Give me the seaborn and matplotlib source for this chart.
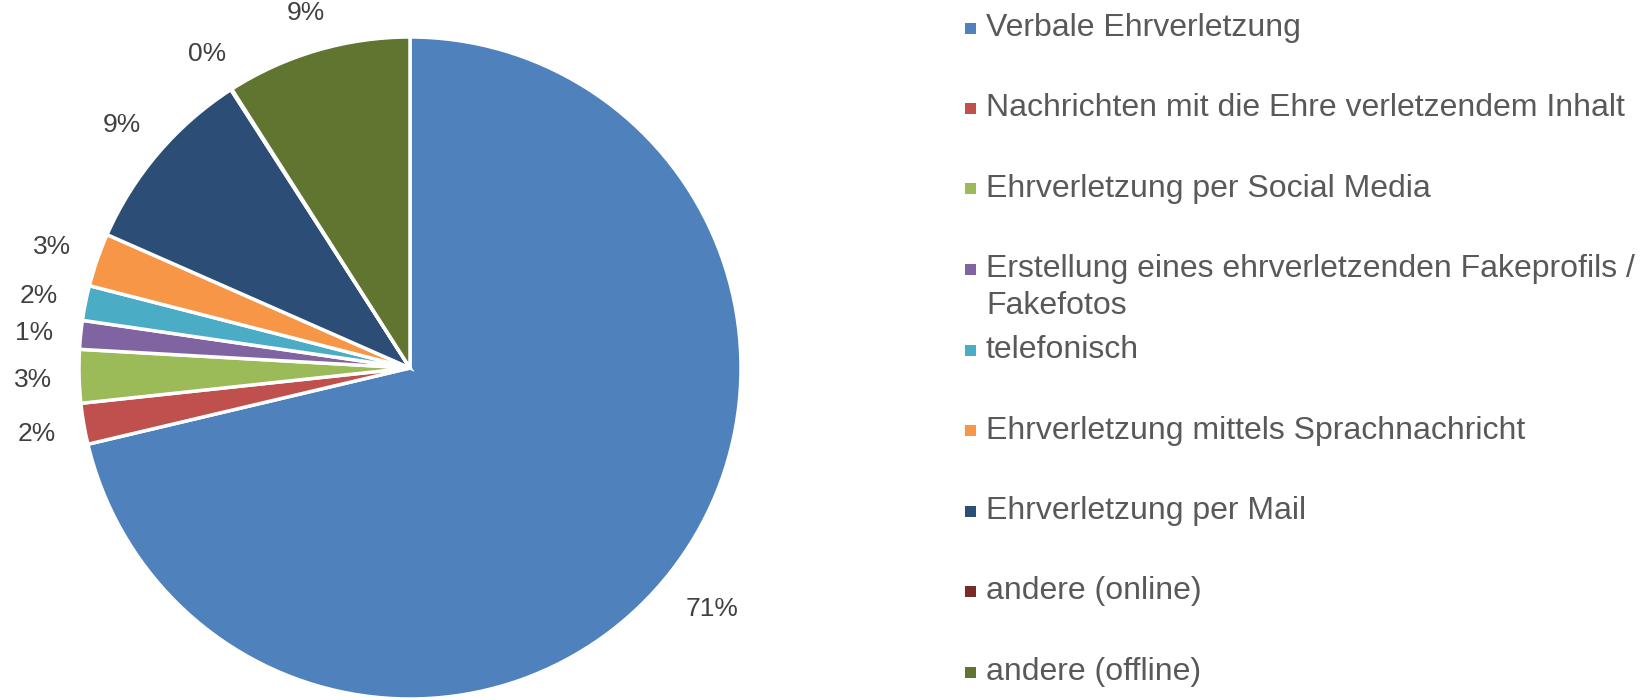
import numpy as np
import matplotlib
matplotlib.use("Agg")
import matplotlib.pyplot as plt
import seaborn as sns
from matplotlib.patches import Rectangle

# ---- Daten ----
categories = [
    "Verbale Ehrverletzung",
    "Nachrichten mit die Ehre verletzendem Inhalt",
    "Ehrverletzung per Social Media",
    "Erstellung eines ehrverletzenden Fakeprofils /\nFakefotos",
    "telefonisch",
    "Ehrverletzung mittels Sprachnachricht",
    "Ehrverletzung per Mail",
    "andere (online)",
    "andere (offline)",
]
shares = [71.3, 2.0, 2.6, 1.4, 1.7, 2.6, 9.3, 0.05, 9.05]
colors = ["#4F81BD", "#C0504D", "#9BBB59", "#8064A2", "#4BACC6",
          "#F79646", "#2C4D75", "#772C2A", "#5F7530"]

sns.set_theme(style="white")
plt.rcParams["font.family"] = ["Liberation Sans", "DejaVu Sans"]

W, H = 1652, 700
fig = plt.figure(figsize=(W / 100, H / 100), dpi=100)

# Kreis: Mittelpunkt (410, 368) px, Radius 331 px
cx, cy, r = 410, 368, 331
half = 400
ax = fig.add_axes([(cx - half) / W, (H - cy - half) / H, 2 * half / W, 2 * half / H])

pct_size = 19
palette = sns.color_palette(colors)
wedges, texts, autotexts = ax.pie(
    shares, colors=palette, startangle=90, counterclock=False,
    autopct=lambda p: f"{p:.0f}%", pctdistance=1.14,
    wedgeprops=dict(edgecolor="white", linewidth=2.5),
    textprops=dict(fontsize=pct_size, color="#404040"),
)
lim = half / r
ax.set_xlim(-lim, lim)
ax.set_ylim(-lim, lim)
ax.set_aspect("equal")
ax.axis("off")

# Beschriftungen wie in Excel: Textkante mit festem Abstand zum Kreis
fig.canvas.draw()
renderer = fig.canvas.get_renderer()
gap = 27 / r
cap = 0.716 * pct_size * 100 / 72   # Versalhoehe in px
for w, t in zip(wedges, autotexts):
    ang = np.deg2rad((w.theta1 + w.theta2) / 2)
    bb = t.get_window_extent(renderer)
    hw = bb.width / 2 / r
    hh = cap / 2 / r
    d = 1 + gap + abs(np.cos(ang)) * hw + abs(np.sin(ang)) * hh
    t.set_position((d * np.cos(ang), d * np.sin(ang) - hh))
    t.set_ha("center")
    t.set_va("baseline")

# ---- Legende rechts ----
y0, step, line_h = 28, 80.5, 37
tx, mx, msz = 986, 965, 11
for i, (name, col) in enumerate(zip(categories, palette)):
    yc = y0 + step * i
    fig.patches.append(Rectangle((mx / W, 1 - (yc + msz / 2) / H), msz / W, msz / H,
                                 transform=fig.transFigure, facecolor=col,
                                 edgecolor="none"))
    for j, line in enumerate(name.split("\n")):
        fig.text(tx / W, 1 - (yc + j * line_h) / H, line, fontsize=23,
                 color="#595959", va="center", ha="left")

fig.savefig("out.png", dpi=100, facecolor="white")
